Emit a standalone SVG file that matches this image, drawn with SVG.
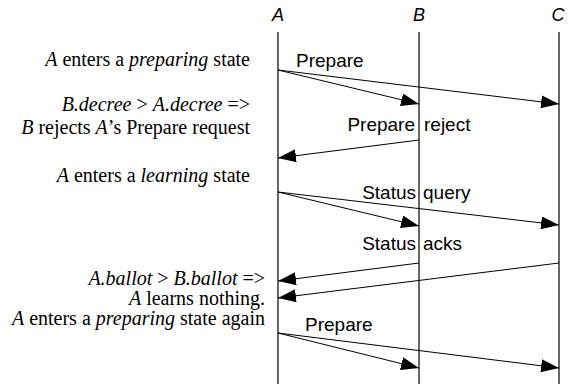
<svg xmlns="http://www.w3.org/2000/svg" width="568" height="387" viewBox="0 0 568 387">
<style>
.life{stroke:#000;stroke-width:1.2;fill:none}
.msg{stroke:#000;stroke-width:1;fill:none;marker-end:url(#ah)}
.hd{font-family:"Liberation Sans",Arial,sans-serif;font-style:italic;font-size:18px;text-anchor:middle}
.lb{font-family:"Liberation Sans",Arial,sans-serif;font-size:19px}
.e{text-anchor:end}
.nt{font-family:"Liberation Serif","Times New Roman",serif;font-size:20px;text-anchor:end}
.i{font-style:italic}
</style>
<defs>
<marker id="ah" markerUnits="userSpaceOnUse" markerWidth="19" markerHeight="14" refX="18" refY="6.5" orient="auto">
<path d="M0,0 L18,6.5 L0,13 z" fill="#000"/>
</marker>
</defs>
<g id="lifeline-A"><text class="hd" x="278" y="21">A</text><line class="life" x1="278" y1="32" x2="278" y2="384"/></g>
<g id="lifeline-B"><text class="hd" x="419" y="21">B</text><line class="life" x1="419" y1="32" x2="419" y2="384"/></g>
<g id="lifeline-C"><text class="hd" x="558" y="21">C</text><line class="life" x1="559" y1="32" x2="559" y2="384"/></g>
<g id="connectors">
<line class="msg" x1="278" y1="70" x2="419" y2="104"/>
<line class="msg" x1="278" y1="70" x2="559" y2="104"/>
<line class="msg" x1="419" y1="140" x2="278" y2="158"/>
<line class="msg" x1="278" y1="192" x2="419" y2="226"/>
<line class="msg" x1="278" y1="192" x2="559" y2="225"/>
<line class="msg" x1="419" y1="263" x2="278" y2="281"/>
<line class="msg" x1="559" y1="263" x2="278" y2="298"/>
<line class="msg" x1="278" y1="333" x2="419" y2="368"/>
<line class="msg" x1="278" y1="333" x2="559" y2="368"/>
</g>
<g id="labels">
<text class="lb" x="296" y="67">Prepare</text>
<text class="lb e" x="415" y="131">Prepare</text>
<text class="lb" x="424" y="131">reject</text>
<text class="lb e" x="416" y="199">Status</text>
<text class="lb" x="423" y="199">query</text>
<text class="lb e" x="416" y="250">Status</text>
<text class="lb" x="423" y="250">acks</text>
<text class="lb" x="305" y="331">Prepare</text>
</g>
<g id="notes">
<text class="nt" x="250" y="66"><tspan class="i">A</tspan> enters a <tspan class="i">preparing</tspan> state</text>
<text class="nt" x="250" y="111"><tspan class="i">B.decree</tspan> &gt; <tspan class="i">A.decree</tspan> =&gt;</text>
<text class="nt" x="250" y="134"><tspan class="i">B</tspan> rejects <tspan class="i">A</tspan>’s Prepare request</text>
<text class="nt" x="250" y="182"><tspan class="i">A</tspan> enters a <tspan class="i">learning</tspan> state</text>
<text class="nt" x="265" y="285"><tspan class="i">A.ballot</tspan> &gt; <tspan class="i">B.ballot</tspan> =&gt;</text>
<text class="nt" x="265" y="305"><tspan class="i">A</tspan> learns nothing.</text>
<text class="nt" x="265" y="325"><tspan class="i">A</tspan> enters a <tspan class="i">preparing</tspan> state again</text>
</g>
</svg>
